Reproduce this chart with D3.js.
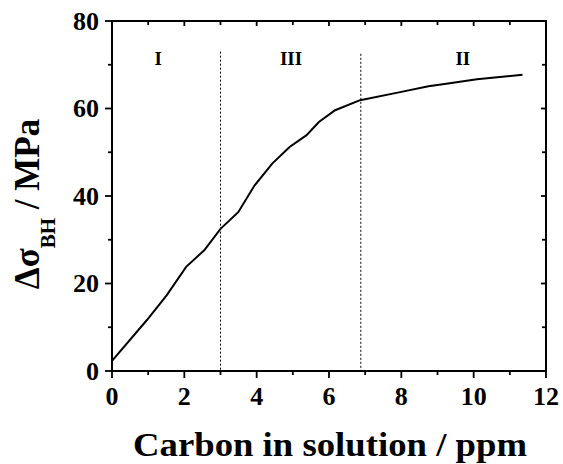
<!DOCTYPE html>
<html><head><meta charset="utf-8">
<script src="https://cdn.jsdelivr.net/npm/d3@7"></script>
<style>body{margin:0;background:#fff}svg{display:block}</style>
</head><body>
<svg id="c" width="563" height="464"></svg>
<script>
const carbon = [0, 0.96, 1.51, 2.05, 2.55, 3.0, 3.49, 3.94, 4.43, 4.91, 5.38, 5.72, 6.17, 6.86, 8.0, 8.75, 9.29, 10.09, 11.35];
const stress = [2.3, 11.6, 17.3, 23.8, 27.6, 32.5, 36.3, 42.4, 47.4, 51.2, 53.9, 56.9, 59.6, 61.9, 63.8, 65.1, 65.7, 66.7, 67.7];
const boundaries = [3.0, 6.88];
const boundaryTops = [73, 72.5];
const regionLabels = ["I", "III", "II"];
const regionX = [1.28, 4.95, 9.7];
const xTicks = [0, 2, 4, 6, 8, 10, 12];
const yTicks = [0, 20, 40, 60, 80];

const svg = d3.select("#c");
const L = 112, R = 546, T = 21, B = 371;
const x = d3.scaleLinear().domain([0, 12]).range([L, R]);
const y = d3.scaleLinear().domain([0, 80]).range([B, T]);
const FONT = "Liberation Serif";
function txt(sel, size) {
  return sel.style("font-family", FONT).style("font-weight", "bold").style("font-size", size + "px").attr("fill", "#000");
}

svg.append("rect").attr("x", L).attr("y", T).attr("width", R - L).attr("height", B - T)
  .attr("fill", "none").attr("stroke", "#000").attr("stroke-width", 2);

const minorX = d3.range(0, 12.01, 1);
const minorY = d3.range(0, 80.01, 10);
minorX.forEach(v => {
  const major = v % 2 === 0;
  svg.append("line").attr("x1", x(v)).attr("x2", x(v)).attr("y1", B).attr("y2", B + (major ? 7 : 4))
    .attr("stroke", "#000").attr("stroke-width", 1.8);
  svg.append("line").attr("x1", x(v)).attr("x2", x(v)).attr("y1", T).attr("y2", T + (major ? 5 : 4))
    .attr("stroke", "#000").attr("stroke-width", 1.8);
});
minorY.forEach(v => {
  const major = v % 20 === 0;
  svg.append("line").attr("y1", y(v)).attr("y2", y(v)).attr("x1", L).attr("x2", L - (major ? 7 : 4))
    .attr("stroke", "#000").attr("stroke-width", 1.8);
  svg.append("line").attr("y1", y(v)).attr("y2", y(v)).attr("x1", R).attr("x2", R - (major ? 5 : 4))
    .attr("stroke", "#000").attr("stroke-width", 1.8);
});

txt(svg.selectAll(".xl").data(xTicks).enter().append("text")
  .attr("x", d => x(d)).attr("y", 405).attr("text-anchor", "middle"), 26).text(d => d);
txt(svg.selectAll(".yl").data(yTicks).enter().append("text")
  .attr("x", 99).attr("y", d => y(d) + 8.5).attr("text-anchor", "end"), 26).text(d => d);

boundaries.forEach((b, i) => {
  svg.append("line").attr("x1", x(b)).attr("x2", x(b)).attr("y1", y(boundaryTops[i])).attr("y2", B)
    .attr("stroke", "#000").attr("stroke-width", 1).attr("stroke-dasharray", "2,2");
});

regionLabels.forEach((t, i) => {
  txt(svg.append("text").attr("x", x(regionX[i])).attr("y", 65).attr("text-anchor", "middle"), 19).text(t);
});

const pts = carbon.map((c, i) => [c, stress[i]]);
svg.append("path").datum(pts)
  .attr("d", d3.line().x(d => x(d[0])).y(d => y(d[1])))
  .attr("fill", "none").attr("stroke", "#000").attr("stroke-width", 2);

txt(svg.append("text").attr("x", 330).attr("y", 456).attr("text-anchor", "middle")
  .attr("textLength", 394).attr("lengthAdjust", "spacingAndGlyphs"), 34)
  .text("Carbon in solution / ppm");

const yt = txt(svg.append("text").attr("transform", "translate(39,204) rotate(-90)")
  .attr("text-anchor", "middle"), 35);
yt.append("tspan").text("Δσ");
yt.append("tspan").style("font-size", "21px").attr("dy", 16).text("BH");
yt.append("tspan").attr("dy", -16).text(" / MPa");
</script>
</body></html>
